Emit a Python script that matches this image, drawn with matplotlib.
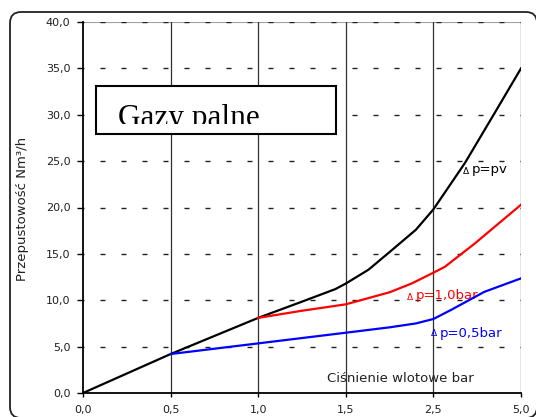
import matplotlib
matplotlib.use("Agg")
import matplotlib.pyplot as plt
from matplotlib.patches import FancyBboxPatch, Rectangle
from matplotlib.transforms import Bbox

W, H = 536, 417
DPI = 100

# ---- data ----
categories = ['0,0', '0,5', '1,0', '1,5', '2,5', '5,0']
y_ticks = [0, 5, 10, 15, 20, 25, 30, 35, 40]
y_tick_labels = ['0,0', '5,0', '10,0', '15,0', '20,0', '25,0', '30,0', '35,0', '40,0']

# x positions are measured in category-index units
pv_x = [0, 1, 2, 2.5, 2.88, 3, 3.26, 3.5, 3.8, 4, 4.36, 4.7, 5]
pv_y = [0, 4.2, 8.1, 9.85, 11.2, 11.8, 13.3, 15.2, 17.6, 19.8, 24.8, 30.2, 35.0]

dp10_x = [2, 2.5, 3, 3.5, 3.75, 4, 4.13, 4.47, 5]
dp10_y = [8.1, 8.87, 9.56, 10.86, 11.8, 12.97, 13.6, 16.1, 20.3]

dp05_x = [1, 2, 3, 3.5, 3.8, 4, 4.2, 4.58, 5]
dp05_y = [4.2, 5.35, 6.5, 7.08, 7.5, 7.98, 8.95, 10.9, 12.36]

title_text = 'Gazy palne'
x_label = 'Ciśnienie wlotowe bar'
y_label = 'Przepustowość Nm³/h'

# ---- figure ----
fig = plt.figure(figsize=(W / DPI, H / DPI), dpi=DPI)

def fx(px):
    return px / W

def fy(py):
    return 1 - py / H

L, R, T, B = 83, 521, 22, 393
ax = fig.add_axes([fx(L), fy(B), fx(R) - fx(L), fy(T) - fy(B)])
ax.set_xlim(0, len(categories) - 1)
ax.set_ylim(0, 40)

# grid
for i in range(1, len(categories)):
    ax.axvline(i, color='#303030', lw=0.9, zorder=1)
dash_pt = 0.72
for v in y_ticks[1:]:
    ax.axhline(v, color='#202020', lw=1.0,
               linestyle=(4 * dash_pt, (5 * dash_pt, 16 * dash_pt)), zorder=1)
ax.axhline(40, color='#a0a0a0', lw=0.8, zorder=0.5)

ax.plot(pv_x, pv_y, color='black', lw=1.6, zorder=3)
ax.plot(dp10_x, dp10_y, color='#ff0000', lw=1.6, zorder=3)
ax.plot(dp05_x, dp05_y, color='#0000ff', lw=1.6, zorder=3)

ax.set_xticks(range(len(categories)))
ax.set_xticklabels(categories)
ax.set_yticks(y_ticks)
ax.set_yticklabels(y_tick_labels)
for s in ['top', 'right']:
    ax.spines[s].set_visible(False)
for s in ['left', 'bottom']:
    ax.spines[s].set_linewidth(1.3)
    ax.spines[s].set_color('black')
ax.tick_params(axis='y', length=4.5, width=1.0, pad=4.5, labelsize=8)
ax.tick_params(axis='x', length=3, width=1.0, pad=5.5, labelsize=8)
for lab in ax.get_xticklabels() + ax.get_yticklabels():
    lab.set_family('DejaVu Sans')
    lab.set_color('#202020')

# outer rounded frame
frame = FancyBboxPatch((10, H - 418), 527, 406,
                       boxstyle='round,pad=0,rounding_size=11',
                       transform=None, fill=False, lw=1.3, ec='#222222',
                       figure=fig)
fig.patches.append(frame)

# title box
box = Rectangle((96, H - 134), 240, 48, transform=None, fill=True,
                fc='white', ec='black', lw=1.5, zorder=5, figure=fig)
fig.patches.append(box)
t = fig.text(fx(118), fy(126), title_text, family='Liberation Serif',
             fontsize=22.5, va='baseline', ha='left', color='black', zorder=6)
t.set_clip_box(Bbox.from_extents(96, H - 124, 336, H - 86))
t.set_clip_on(True)

# axis labels (drawn beneath the grid lines, like the original)
ax.text(fx(400), fy(378), x_label, transform=fig.transFigure,
        family='DejaVu Sans', fontsize=9.5, ha='center', va='center',
        color='#202020', zorder=0.8)
fig.text(fx(23), fy(209), y_label, family='DejaVu Sans', fontsize=9.5,
         ha='center', va='center', rotation=90, color='#202020')

# series labels
def series_label(px, py, rest, color):
    ax.text(fx(px), fy(py), 'Δ', transform=fig.transFigure,
            family='DejaVu Sans', fontsize=6.5, ha='left', va='center',
            color=color, zorder=2)
    ax.text(fx(px + 9), fy(py - 1), rest, transform=fig.transFigure,
            family='DejaVu Sans', fontsize=9.5, ha='left', va='center',
            color=color, zorder=2)

series_label(463, 171, 'p=pv', 'black')
series_label(407, 297, 'p=1,0bar', '#ff0000')
series_label(431, 334, 'p=0,5bar', '#0000ff')

fig.savefig('out.png', dpi=DPI, facecolor='white')
